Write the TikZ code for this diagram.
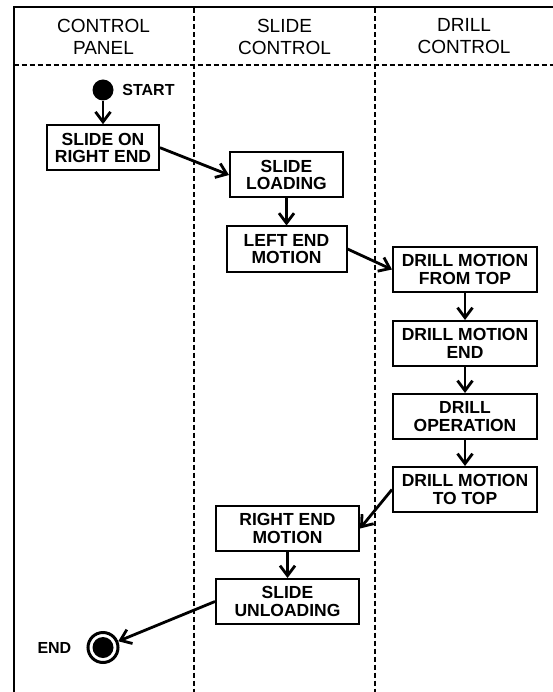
\documentclass[tikz,border=0pt]{standalone}
\usepackage{fontspec}
\setmainfont{Liberation Sans}
\usetikzlibrary{arrows.meta, positioning}

\begin{document}
\begin{tikzpicture}[x=1pt, y=1pt,
    stepbox/.style={rectangle, draw, line width=2pt, minimum height=45pt,
      inner sep=0pt, align=center, font=\fontsize{17.5}{17.3}\selectfont\bfseries},
    lane/.style={align=center, font=\fontsize{19}{22}\selectfont},
    sep/.style={line width=1.5pt, dash pattern=on 5pt off 3pt},
    lbl/.style={inner sep=0pt, font=\fontsize{16}{18}\selectfont\bfseries},
    arr/.style={-{Straight Barb[length=10pt, width=15pt]}, line width=2.8pt}]
    \useasboundingbox (0,0) rectangle (553,-692);
    \draw[line width=2pt] (13.5,-692) -- (13.5,-7.5) -- (553,-7.5);
    \draw[sep] (13.5,-65) -- (553,-65);
    \draw[sep] (194,-8.5) -- (194,-692);
    \draw[sep] (375,-8.5) -- (375,-692);
    \node[lane](cp) at (103.5,-36.5){CONTROL\\PANEL};
    \node[lane](sc) at (284.5,-36.5){SLIDE\\CONTROL};
    \node[lane](dc) at (464,-36.5){DRILL\\CONTROL};
    \node[circle, fill, inner sep=0pt, minimum size=21pt](st) at (103,-90){};
    \node[lbl, right=8.5pt of st](stl){START};
    \node[stepbox, minimum width=112pt, below=23.5pt of st](ron){SLIDE ON\\RIGHT END};
    \node[stepbox, minimum width=113pt](load) at (286.5,-175){SLIDE\\LOADING};
    \node[stepbox, minimum width=120pt, below=27pt of load](left){LEFT END\\MOTION};
    \node[stepbox, minimum width=144pt](top) at (465,-269.5){DRILL MOTION\\FROM TOP};
    \node[stepbox, minimum width=144pt, below=27pt of top](dend){DRILL MOTION\\END};
    \node[stepbox, minimum width=144pt, below=26pt of dend](op){DRILL\\OPERATION};
    \node[stepbox, minimum width=144pt, below=26pt of op](up){DRILL MOTION\\TO TOP};
    \node[stepbox, minimum width=143pt](right) at (287.5,-528.5){RIGHT END\\MOTION};
    \node[stepbox, minimum width=143pt, below=26pt of right](unl){SLIDE\\UNLOADING};
    \node[circle, draw, line width=3pt, inner sep=0pt, minimum size=30pt](fin) at (103,-647.5){};
    \fill (fin.center) circle[radius=10.5pt];
    \node[lbl, left=15pt of fin](finl){END};
    \draw[arr](st)--(ron); \draw[arr](ron.east)--(load.west); \draw[arr](load)--(left);
    \draw[arr](left.east)--(top.west); \draw[arr](top)--(dend); \draw[arr](dend)--(op);
    \draw[arr](op)--(up); \draw[arr](up.west)--(right.east); \draw[arr](right)--(unl);
    \draw[arr](unl.west)--(fin);
  \end{tikzpicture}
\end{document}
